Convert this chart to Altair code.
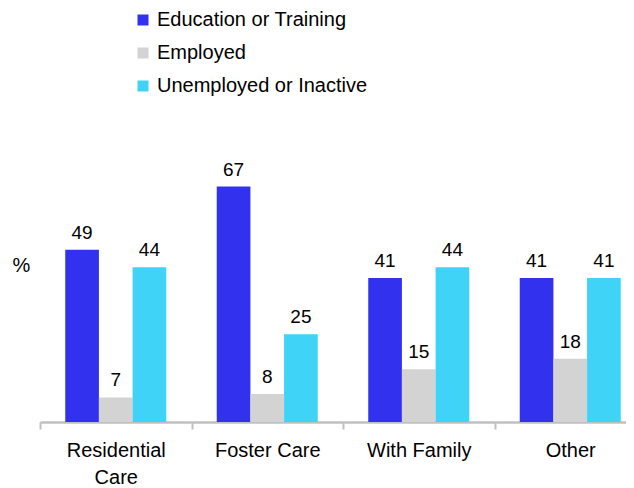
import altair as alt
import pandas as pd

categories = ["Residential Care", "Foster Care", "With Family", "Other"]
series = ["Education or Training", "Employed", "Unemployed or Inactive"]
education = [49, 67, 41, 41]
employed = [7, 8, 15, 18]
unemployed = [44, 25, 44, 41]
colors = ["#3232ee", "#d3d3d3", "#3fd3f7"]

FONT = "Liberation Sans"

rows = []
for i, c in enumerate(categories):
    for s, vals in zip(series, [education, employed, unemployed]):
        rows.append({"category": c, "series": s, "value": vals[i]})
df = pd.DataFrame(rows)

x = alt.X(
    "category:N", sort=categories, title=None,
    scale=alt.Scale(range=[0, 606], paddingInner=0, paddingOuter=0),
    axis=alt.Axis(
        labelAngle=0, labelFontSize=20, labelFont=FONT, labelColor="black",
        domainColor="#c0c0c0", domainWidth=2.5, tickColor="#c0c0c0",
        tickWidth=2, tickSize=7, tickBand="extent", labelPadding=11,
        labelLineHeight=27,
        labelExpr="datum.label == 'Residential Care' ? ['Residential', 'Care'] : datum.label",
    ),
)
xo = alt.XOffset("series:N", sort=series,
                 scale=alt.Scale(paddingInner=0, paddingOuter=0.75))
y = alt.Y(
    "value:Q", scale=alt.Scale(domain=[0, 70]),
    axis=alt.Axis(domain=False, labels=False, ticks=False, grid=False,
                  title="%", titleAngle=0, titleX=-19, titleY=89,
                  titleFontSize=20, titleFontWeight="normal", titleFont=FONT,
                  titleAlign="center", titleBaseline="middle", titleColor="black"),
)

bars = alt.Chart(df).mark_bar().encode(
    x=x, xOffset=xo, y=y,
    color=alt.Color(
        "series:N", sort=series,
        scale=alt.Scale(domain=series, range=colors),
        legend=alt.Legend(orient="none", legendX=93, legendY=-166, title=None,
                          symbolType="square", symbolSize=121,
                          symbolStrokeWidth=0, labelFontSize=20, labelFont=FONT,
                          labelColor="black", labelOffset=4, rowPadding=13,
                          labelLimit=0),
    ),
)

labels = alt.Chart(df).mark_text(
    dy=-11, baseline="alphabetic", fontSize=19, font=FONT, color="black"
).encode(x=x, xOffset=xo, y=y, text="value:Q")

chart = (bars + labels).properties(
    width=586, height=246,
    autosize=alt.AutoSizeParams(type="none"),
    padding={"left": 32, "top": 168, "right": 0, "bottom": 66},
).configure_view(stroke=None)

chart.save("out.html", embed_options={"renderer": "svg", "actions": False})
